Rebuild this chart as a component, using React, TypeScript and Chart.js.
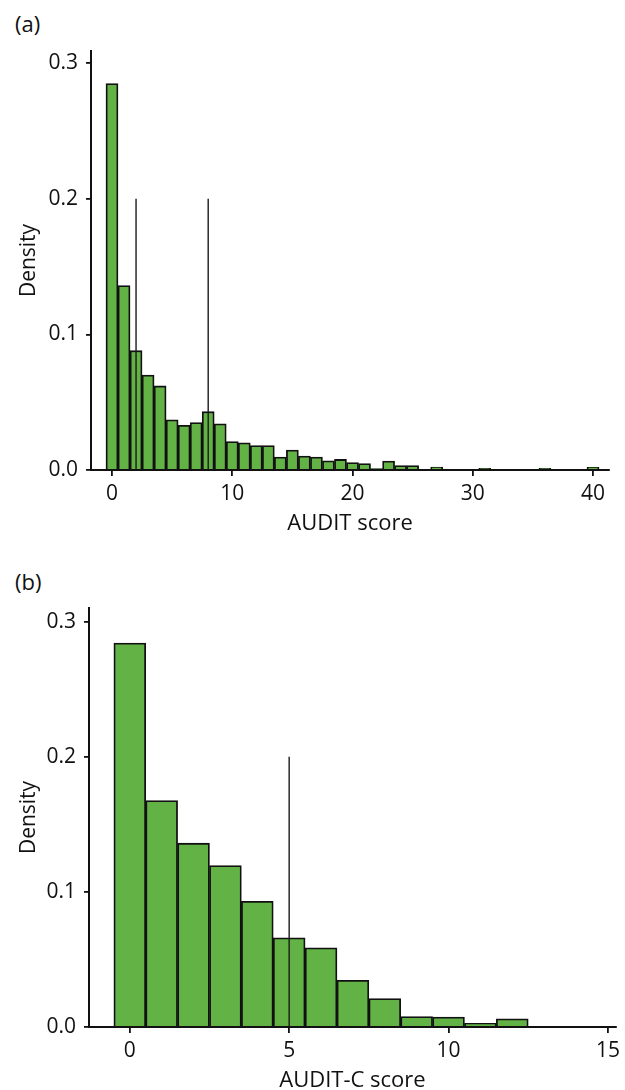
import React, { useEffect, useRef } from 'react';
import { Chart, registerables } from 'chart.js';

Chart.register(...registerables);

// ---- Data ----
const auditScores = [
  0, 1, 2, 3, 4, 5, 6, 7, 8, 9, 10, 11, 12, 13, 14, 15, 16, 17, 18, 19, 20,
  21, 22, 23, 24, 25, 26, 27, 28, 29, 30, 31, 32, 33, 34, 35, 36, 37, 38, 39, 40,
];
const auditDensity = [
  0.285, 0.136, 0.088, 0.07, 0.062, 0.037, 0.033, 0.035, 0.043, 0.034, 0.021,
  0.02, 0.018, 0.018, 0.0096, 0.0147, 0.0103, 0.0095, 0.0068, 0.0078, 0.0055,
  0.0047, 0.0011, 0.0066, 0.0032, 0.0032, 0, 0.0021, 0, 0, 0.0005,
  0.0012, 0.0005, 0, 0, 0, 0.0012, 0.0005, 0, 0, 0.002,
];
const auditMedians = [2, 8];
const auditTicks = [0, 10, 20, 30, 40];

const auditCScores = [0, 1, 2, 3, 4, 5, 6, 7, 8, 9, 10, 11, 12];
const auditCDensity = [
  0.284, 0.1675, 0.136, 0.1195, 0.093, 0.066, 0.0586, 0.0345, 0.021, 0.0078,
  0.0073, 0.0028, 0.006,
];
const auditCMedians = [5];
const auditCTicks = [0, 5, 10, 15];

const densityTicks = [0.0, 0.1, 0.2, 0.3];
const medianLineTop = 0.2;

// ---- Styling ----
const FONT = "'Open Sans', 'Noto Sans', sans-serif";
const GREEN = '#63b246';
const INK = '#111111';

type Params = {
  scores: number[];
  density: number[];
  medians: number[];
  xTicks: number[];
  xMin: number;
  xMax: number;
  yMax: number;
  yWidth: number;
  padRight: number;
  xTitle: string;
};

function buildConfig(p: Params): any {
  const datasets: any[] = [
    ...p.medians.map((m) => ({
      type: 'line',
      data: [
        { x: m, y: 0 },
        { x: m, y: medianLineTop },
      ],
      borderColor: '#1a1a1a',
      borderWidth: 1.4,
      pointRadius: 0,
      fill: false,
      tension: 0,
      order: 0,
    })),
    {
      type: 'bar',
      data: p.scores.map((s, i) => ({ x: s, y: p.density[i] })),
      backgroundColor: GREEN,
      borderColor: INK,
      borderWidth: 1.8,
      barPercentage: 1,
      categoryPercentage: 1,
      order: 1,
    },
  ];

  const tickFont = { family: FONT, size: 21 };
  const xTitleFont = { family: FONT, size: 22 };
  const yTitleFont = { family: FONT, size: 21 };

  return {
    type: 'bar',
    data: { datasets },
    options: {
      responsive: false,
      animation: false,
      devicePixelRatio: 1,
      events: [],
      layout: { padding: { top: 51, left: 0, right: p.padRight, bottom: 8 } },
      plugins: {
        legend: { display: false },
        tooltip: { enabled: false },
        title: { display: false },
      },
      scales: {
        x: {
          type: 'linear',
          min: p.xMin,
          max: p.xMax,
          offset: false,
          afterFit: (s: any) => {
            s.height = 67;
          },
          afterBuildTicks: (s: any) => {
            s.ticks = p.xTicks.map((v) => ({ value: v }));
          },
          grid: {
            offset: false,
            drawOnChartArea: false,
            drawTicks: true,
            tickLength: 6,
            color: INK,
            lineWidth: 1.8,
          },
          border: { display: true, color: INK, width: 2, z: 1 },
          ticks: {
            padding: 5,
            font: tickFont,
            color: INK,
            maxRotation: 0,
            autoSkip: false,
            callback: (v: any) => String(v),
          },
          title: {
            display: true,
            text: p.xTitle,
            font: xTitleFont,
            color: INK,
            padding: 0,
          },
        },
        y: {
          type: 'linear',
          min: 0,
          max: p.yMax,
          afterFit: (s: any) => {
            s.width = p.yWidth;
          },
          afterBuildTicks: (s: any) => {
            s.ticks = densityTicks.map((v) => ({ value: v }));
          },
          grid: {
            offset: false,
            drawOnChartArea: false,
            drawTicks: true,
            tickLength: 5,
            color: INK,
            lineWidth: 1.8,
          },
          border: { display: true, color: INK, width: 2, z: 1 },
          ticks: {
            padding: 8,
            font: tickFont,
            color: INK,
            autoSkip: false,
            callback: (v: any) => Number(v).toFixed(1),
          },
          title: {
            display: true,
            text: 'Density',
            font: yTitleFont,
            color: INK,
            padding: { top: 16, bottom: 0 },
          },
        },
      },
    },
  };
}

function HistChart({ params, top, height }: { params: Params; top: number; height: number }) {
  const ref = useRef<HTMLCanvasElement | null>(null);
  useEffect(() => {
    if (!ref.current) return;
    const chart = new Chart(ref.current, buildConfig(params));
    return () => chart.destroy();
  }, []);
  return (
    <canvas
      ref={ref}
      width={625}
      height={height}
      style={{ position: 'absolute', left: 0, top, width: 625, height }}
    />
  );
}

const panelLabel: React.CSSProperties = {
  position: 'absolute',
  left: 15,
  fontFamily: FONT,
  fontSize: 22,
  lineHeight: '26px',
  color: INK,
};

export default function App() {
  return (
    <div
      style={{
        position: 'absolute',
        left: 0,
        top: 0,
        width: 625,
        height: 1090,
        overflow: 'hidden',
        background: '#ffffff',
      }}
    >
      <div style={{ ...panelLabel, top: 10 }}>(a)</div>
      <HistChart
        top={0}
        height={545}
        params={{
          scores: auditScores,
          density: auditDensity,
          medians: auditMedians,
          xTicks: auditTicks,
          xMin: -1.746,
          xMax: 41.33,
          yMax: 0.309,
          yWidth: 91,
          padRight: 16,
          xTitle: 'AUDIT score',
        }}
      />
      <div style={{ ...panelLabel, top: 568 }}>(b)</div>
      <HistChart
        top={557}
        height={545}
        params={{
          scores: auditCScores,
          density: auditCDensity,
          medians: auditCMedians,
          xTicks: auditCTicks,
          xMin: -1.28,
          xMax: 15.25,
          yMax: 0.31,
          yWidth: 89,
          padRight: 7,
          xTitle: 'AUDIT-C score',
        }}
      />
    </div>
  );
}
